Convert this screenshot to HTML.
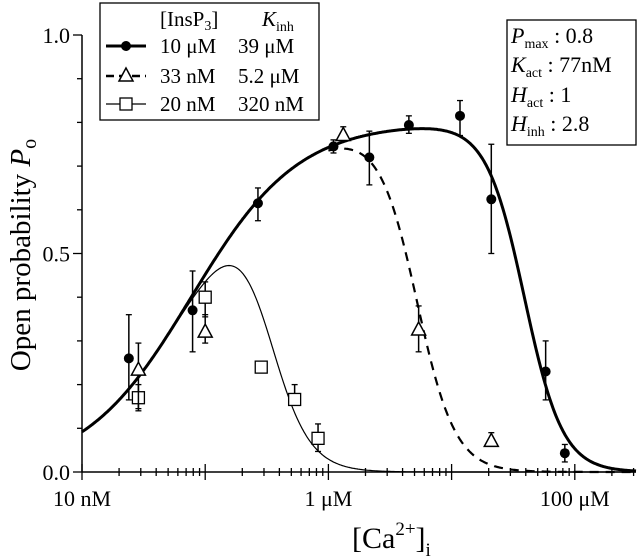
<!DOCTYPE html>
<html><head><meta charset="utf-8">
<style>
body{margin:0;background:#fff;}
svg{display:block;font-family:"Liberation Serif",serif;}
</style></head>
<body>
<svg id="chart" width="640" height="557" viewBox="0 0 640 557" xmlns="http://www.w3.org/2000/svg">
<g id="axes"></g>
<g id="curves"></g>
<g id="points"></g>
<text transform="translate(30,255) rotate(-90)" text-anchor="middle" font-size="29">Open probability <tspan font-style="italic">P</tspan><tspan font-size="20" dy="6">o</tspan></text>
<text x="352" y="548" font-size="30">[Ca<tspan font-size="19" dy="-13">2+</tspan><tspan dy="13">]</tspan><tspan font-size="19" dy="8">i</tspan></text>
<g>
  <rect x="100" y="3" width="219" height="117" fill="#fff" stroke="#000" stroke-width="1.3"/>
  <text x="160" y="26" font-size="21">[InsP<tspan font-size="14" dy="4">3</tspan><tspan dy="-4">]</tspan></text>
  <text x="262" y="26" font-size="21" font-style="italic">K<tspan font-style="normal" font-size="14" dy="5">inh</tspan></text>
  <g>
    <line x1="106" y1="46" x2="146" y2="46" stroke="#000" stroke-width="3"/>
    <circle cx="126" cy="46" r="5" fill="#000"/>
    <text x="160" y="53" font-size="21">10 μM</text>
    <text x="238" y="53" font-size="21">39 μM</text>
  </g>
  <g>
    <line x1="106" y1="76" x2="146" y2="76" stroke="#000" stroke-width="2.5" stroke-dasharray="8,5"/>
    <path d="M126 68 L133 81 L119 81 Z" fill="#fff" stroke="#000" stroke-width="1.5"/>
    <text x="160" y="83" font-size="21">33 nM</text>
    <text x="238" y="83" font-size="21">5.2 μM</text>
  </g>
  <g>
    <line x1="106" y1="104" x2="146" y2="104" stroke="#000" stroke-width="1.2"/>
    <rect x="120" y="98" width="12" height="12" fill="#fff" stroke="#000" stroke-width="1.3"/>
    <text x="160" y="111" font-size="21">20 nM</text>
    <text x="238" y="111" font-size="21">320 nM</text>
  </g>
</g>
<g>
  <rect x="507" y="20" width="129" height="125" fill="#fff" stroke="#000" stroke-width="1.3"/>
  <text x="511" y="43" font-size="22"><tspan font-style="italic">P</tspan><tspan font-size="14" dy="5">max</tspan><tspan dy="-5"> : 0.8</tspan></text>
  <text x="511" y="72" font-size="22"><tspan font-style="italic">K</tspan><tspan font-size="14" dy="5">act</tspan><tspan dy="-5"> : 77nM</tspan></text>
  <text x="511" y="102" font-size="22"><tspan font-style="italic">H</tspan><tspan font-size="14" dy="5">act</tspan><tspan dy="-5"> : 1</tspan></text>
  <text x="511" y="131" font-size="22"><tspan font-style="italic">H</tspan><tspan font-size="14" dy="5">inh</tspan><tspan dy="-5"> : 2.8</tspan></text>
</g>
</svg>
<script>
// concentrations in nM
const circleConc = [24, 79, 268, 1100, 2150, 4500, 11700, 21000, 58000, 83000];
const circleP    = [0.26, 0.37, 0.615, 0.745, 0.72, 0.794, 0.815, 0.624, 0.23, 0.043];
const circleLo   = [0.165, 0.275, 0.575, 0.73, 0.657, 0.775, 0.77, 0.5, 0.165, 0.023];
const circleHi   = [0.36, 0.46, 0.65, 0.76, 0.78, 0.815, 0.85, 0.75, 0.30, 0.063];
const triConc = [28.7, 100, 1320, 5400, 21000];
const triP    = [0.233, 0.32, 0.77, 0.325, 0.07];
const triLo   = [0.14, 0.295, 0.76, 0.275, 0.07];
const triHi   = [0.295, 0.36, 0.79, 0.38, 0.09];
const sqConc = [28.7, 100, 285, 532, 824];
const sqP    = [0.17, 0.40, 0.24, 0.166, 0.077];
const sqLo   = [0.145, 0.355, 0.23, 0.153, 0.047];
const sqHi   = [0.20, 0.435, 0.25, 0.20, 0.11];
const kinhValues = [39000, 5200, 320];
const pMax = 0.8, kAct = 77, hAct = 1, hInh = 2.8;
const yTickLabels = ["0.0", "0.5", "1.0"];
const xTickLabels = ["10 nM", "1 μM", "100 μM"];
const xTickValues = [10, 1000, 100000];

const NS = "http://www.w3.org/2000/svg";
const X0 = 82, DEC = 123.2, Y0 = 472, YS = 437, XEND = 636;
function xs(c){ return X0 + Math.log10(c/10)*DEC; }
function ys(p){ return Y0 - p*YS; }
function mk(tag, attrs, parent){ const e=document.createElementNS(NS,tag); for(const k in attrs) e.setAttribute(k,attrs[k]); parent.appendChild(e); return e; }

const axes = document.getElementById('axes');
let a = mk('line',{x1:X0,y1:ys(1),x2:X0,y2:Y0,stroke:'#000','stroke-width':1.5},axes);


a = mk('line',{x1:X0,y1:Y0,x2:XEND,y2:Y0,stroke:'#000','stroke-width':1.5},axes);


for(let i=0;i<=10;i++){
  const y=ys(i/10), major=(i%5===0);
  const t=mk('line',{x1:major?X0-9:X0-5,y1:y,x2:X0,y2:y,stroke:'#000','stroke-width':1.3},axes);
  
  
}
yTickLabels.forEach((l,i)=>{
  const t=mk('text',{x:X0-12,y:ys(i*0.5)+8,'text-anchor':'end','font-size':22},axes);
  t.textContent=l;
  
  
});
for(let d=10; d<=1e6; d*=10){
  for(let m=1;m<10;m++){
    const c=d*m, x=xs(c);
    if(x>XEND+0.5) break;
    const major=(m===1);
    const t=mk('line',{x1:x,y1:Y0-(major?8:4),x2:x,y2:Y0+(major?8:4),stroke:'#000','stroke-width':1.3},axes);
    
    
  }
}
xTickLabels.forEach((l,i)=>{
  const t=mk('text',{x:xs(xTickValues[i]),y:506,'text-anchor':'middle','font-size':22},axes);
  t.textContent=l;
  
  
});

function model(c,kinh){ return pMax*Math.pow(c,hAct)/(Math.pow(c,hAct)+Math.pow(kAct,hAct))*Math.pow(kinh,hInh)/(Math.pow(c,hInh)+Math.pow(kinh,hInh)); }
const curves=document.getElementById('curves');
const styles=[{w:3,dash:null,start:10,n:'fit-curve-10uM'},{w:2.2,dash:'9,7',start:1000,n:'fit-curve-33nM'},{w:1.2,dash:null,start:10,n:'fit-curve-20nM'}];
kinhValues.forEach((k,i)=>{
  const s=styles[i]; let d='';
  for(let x=xs(s.start); x<=XEND; x+=1){
    const c=10*Math.pow(10,(x-X0)/DEC);
    d+=(d?'L':'M')+x.toFixed(1)+' '+ys(model(c,k)).toFixed(1);
  }
  const p=mk('path',{d:d,fill:'none',stroke:'#000','stroke-width':s.w},curves);
  if(s.dash) p.setAttribute('stroke-dasharray',s.dash);
  
  
});

const pts=document.getElementById('points');
function errbar(x,lo,hi){
  mk('line',{x1:x,y1:ys(lo),x2:x,y2:ys(hi),stroke:'#000','stroke-width':1.5},pts);
  mk('line',{x1:x-3,y1:ys(lo),x2:x+3,y2:ys(lo),stroke:'#000','stroke-width':1.3},pts);
  mk('line',{x1:x-3,y1:ys(hi),x2:x+3,y2:ys(hi),stroke:'#000','stroke-width':1.3},pts);
}
sqConc.forEach((c,i)=>{
  const x=xs(c); errbar(x,sqLo[i],sqHi[i]);
  const r=mk('rect',{x:x-6,y:ys(sqP[i])-6,width:12,height:12,fill:'#fff',stroke:'#000','stroke-width':1.3},pts);
  
  
});
triConc.forEach((c,i)=>{
  const x=xs(c), y=ys(triP[i]); errbar(x,triLo[i],triHi[i]);
  const t=mk('path',{d:`M${x} ${y-8} L${x+7} ${y+5} L${x-7} ${y+5} Z`,fill:'#fff',stroke:'#000','stroke-width':1.5},pts);
  
  
});
circleConc.forEach((c,i)=>{
  const x=xs(c); errbar(x,circleLo[i],circleHi[i]);
  const p=mk('circle',{cx:x,cy:ys(circleP[i]),r:5,fill:'#000'},pts);
  
  
});
</script>
</body></html>
